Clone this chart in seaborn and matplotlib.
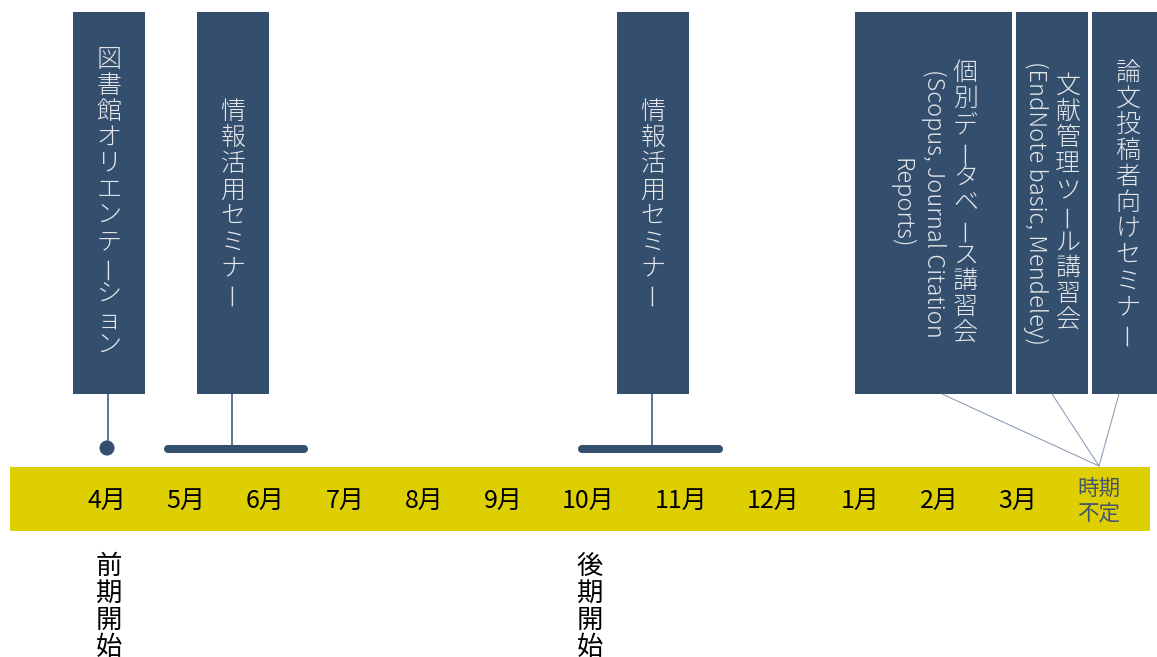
import numpy as np
import pandas as pd
import matplotlib
matplotlib.use("Agg")
import matplotlib.pyplot as plt
import seaborn as sns
from matplotlib.patches import Rectangle

# ---------------- data ----------------
months = ["4月", "5月", "6月", "7月", "8月", "9月", "10月", "11月", "12月",
          "1月", "2月", "3月", "時期\n不定"]
event_label_lines = [
    ["図書館オリエンテーション"],
    ["情報活用セミナー"],
    ["情報活用セミナー"],
    ["個別データベース講習会", "(Scopus, Journal Citation", "Reports)"],
    ["文献管理ツール講習会", "(EndNote basic, Mendeley)"],
    ["論文投稿者向けセミナー"],
]
# month index (0 = 4月 ... 11 = 3月, 12 = 時期不定)
event_start = [0, 0.77, 5.93, 12, 12, 12]
event_end = [0, 2.49, 7.41, 12, 12, 12]
semester_labels = ["前期開始", "後期開始"]
semester_month = [0, 6]

# ---------------- layout ----------------
W, H = 1157, 657
month_px = [107, 186, 265, 345, 424, 503, 588, 681, 773, 860, 939, 1018, 1099]
anchor_idx = np.array([-2, -1] + list(range(len(month_px))) + [len(month_px)], float)
anchor_px = np.array([-51, 28] + month_px + [1178], float)

box_left = [73, 197, 617, 855, 1016, 1092]
box_width = [72, 72, 72, 157, 72, 72]
box_top, box_bottom = 12, 394
link_px = [None, None, None, 942, 1052, 1119]
band_left, band_right, band_top, band_bottom = 10, 1150, 467, 531
track_y = 449
month_label_y = 501
semester_y = 607

BOX = "#344F6D"
BOX_TXT = "#E4E6EA"
YELLOW = "#DECF03"
LINK = "#8394AE"
UNDEF_TXT = "#44546A"

sns.set_theme(style="white")
plt.rcParams["font.family"] = ["Noto Sans CJK JP", "DejaVu Sans"]

fig = plt.figure(figsize=(W / 100, H / 100), dpi=100)
fig.patch.set_facecolor("white")
lay = fig.add_axes([0, 0, 1, 1], zorder=1)
lay.set_xlim(0, W)
lay.set_ylim(H, 0)
lay.axis("off")

ax = fig.add_axes([0, 0, 1, 1], zorder=2)
ax.patch.set_visible(False)


def fwd(x):
    return np.interp(x, anchor_idx, anchor_px)


def inv(p):
    return np.interp(p, anchor_px, anchor_idx)


ax.set_xscale("function", functions=(fwd, inv))

# band
lay.add_patch(Rectangle((band_left, band_top), band_right - band_left,
                        band_bottom - band_top, color=YELLOW, lw=0, zorder=1))


def is_cjk(s):
    return any(ord(c) > 0x2E80 for c in s)


def vcolumn(axl, x, yc, s, size, color, adv, weight="normal"):
    if is_cjk(s):
        n = len(s)
        y0 = yc - n * adv / 2
        for i, c in enumerate(s):
            if c in "ー－":
                axl.text(x, y0 + (i + 0.5) * adv, c, ha="center", va="center",
                         rotation=90, rotation_mode="anchor", fontsize=size,
                         color=color, fontweight=weight, zorder=5)
            else:
                axl.text(x, y0 + (i + 0.5) * adv, c, ha="center", va="center",
                         fontsize=size, color=color, fontweight=weight, zorder=5)
    else:
        axl.text(x, yc, s, ha="center", va="center", rotation=-90,
                 fontsize=size, color=color, fontweight=weight, zorder=5)


col_gap = 32
yc_box = (box_top + box_bottom) / 2
for i, lines in enumerate(event_label_lines):
    lay.add_patch(Rectangle((box_left[i], box_top), box_width[i],
                            box_bottom - box_top, color=BOX, lw=0, zorder=2))
    xc = box_left[i] + box_width[i] / 2
    ncol = len(lines)
    for k, s in enumerate(lines):
        x = xc + ((ncol - 1) / 2 - k) * col_gap
        vcolumn(lay, x, yc_box, s, 18 if is_cjk(s) else 17, BOX_TXT, 26,
                weight="light")
    if link_px[i] is None:
        lay.plot([xc - 1, xc - 1], [box_bottom, track_y], color=BOX, lw=1.1,
                 zorder=3)
    else:
        ax.plot([inv(link_px[i]), event_start[i]], [box_bottom, band_top - 1],
                color=LINK, lw=0.7, zorder=3)

# point events and range events
pts = pd.DataFrame({"x": [s for s, e in zip(event_start, event_end) if s == e and s < 12],
                    "y": track_y - 1})
sns.scatterplot(data=pts, x="x", y="y", s=118, color=BOX, edgecolor="none",
                ax=ax, zorder=4)
rows = []
for i, (s, e) in enumerate(zip(event_start, event_end)):
    if s != e:
        rows += [{"event": i, "x": s, "y": track_y}, {"event": i, "x": e, "y": track_y}]
bars = pd.DataFrame(rows)
sns.lineplot(data=bars, x="x", y="y", units="event", estimator=None, sort=False,
             color=BOX, lw=5.8, solid_capstyle="round", ax=ax, zorder=4)

# month labels
for i, m in enumerate(months):
    if "\n" in m:
        ax.text(i, month_label_y, m, ha="center", va="center", fontsize=15.5,
                color=UNDEF_TXT, linespacing=1.15, zorder=5)
    else:
        ax.text(i, month_label_y, m, ha="center", va="center", fontsize=18,
                color="black", zorder=5)

# semester start labels
for lab, m in zip(semester_labels, semester_month):
    xs = fwd(m) + 2
    vcolumn(lay, xs, semester_y, lab, 19, "black", 26.7)

ax.set_xlim(inv(0), inv(W))
ax.set_ylim(H, 0)
ax.axis("off")
fig.savefig("out.png", dpi=100, facecolor="white")
